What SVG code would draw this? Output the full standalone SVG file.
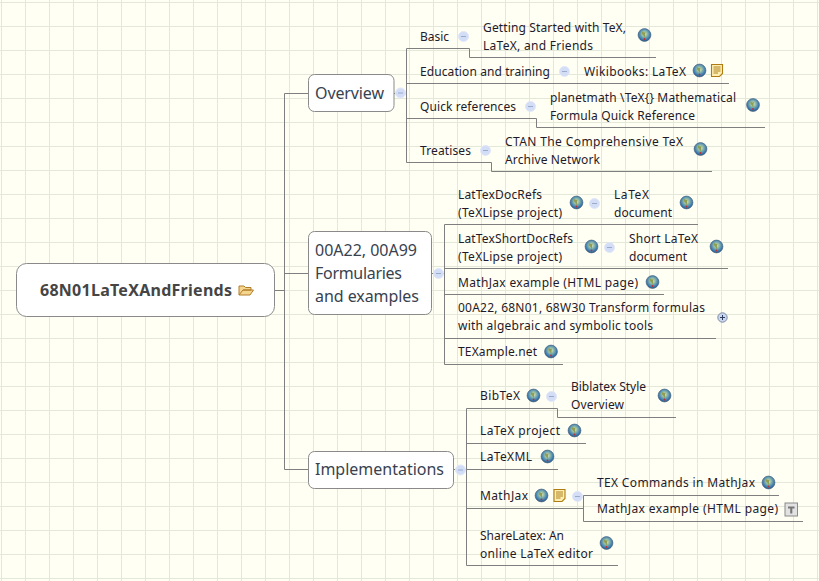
<svg xmlns="http://www.w3.org/2000/svg" width="819" height="581" viewBox="0 0 819 581">
<style>
text{font-family:"Noto Sans","Open Sans","DejaVu Sans",sans-serif;fill:#1f1a2a;font-size:12px}
.big{font-size:16px;fill:#38424f}
.root{font-size:16px;font-weight:bold;fill:#454545}
.box{fill:#fff;stroke:#8a8a8a;stroke-width:1}
.ln{fill:none;stroke:#7f7f7f;stroke-width:1}
.grid{stroke:#e3e8d8;stroke-width:1;fill:none}
</style>
<defs>
<pattern id="gridp" width="24" height="24" patternUnits="userSpaceOnUse" x="1" y="2">
<path class="grid" d="M.5 0V24M0 .5H24"/>
</pattern>
<radialGradient id="gg" cx=".5" cy=".42" r=".62">
<stop offset="0" stop-color="#e4eccb"/><stop offset=".35" stop-color="#8fb8a8"/><stop offset=".72" stop-color="#3a7cb4"/><stop offset="1" stop-color="#26486e"/>
</radialGradient>
<g id="globe"><circle r="6.4" fill="url(#gg)" stroke="#4a6480" stroke-width=".7"/><path d="M-2.500-3.500-.5-2.500 1-3 .5 0 .5 3-1 .5-2.500-1Z" fill="#8f9f52"/><circle cx="0" cy="4" r=".9" fill="#c03030"/></g>
<g id="note"><path d="M-5.500-6H5.500V3L2.500 6H-5.500Z" fill="#fdeeb4" stroke="#b07c12" stroke-width="1.100"/><path d="M-3.500-3.500H3.500M-3.500-1.500H3.500M-3.500.5H3.500M-3.500 2.500H1" stroke="#a87610" stroke-width=".9"/></g>
<g id="minus"><circle r="5" fill="#d3def6" stroke="#e0e8fa"/><path d="M-2.500 0H2.500" stroke="#9aaccc" stroke-width="1"/></g>
<g id="plus"><circle r="4.700" fill="#c9d6ee" stroke="#7d8aa8"/><path d="M-2.500 0H2.500M0-2.500V2.500" stroke="#2f3f60" stroke-width="1"/></g>
</defs>
<rect width="819" height="581" fill="#fffff3"/>
<rect width="819" height="581" fill="url(#gridp)"/>

<g id="connectors">
<path class="ln" d="M274 290.500H284.500M284.500 93.500V469.500M284.500 93.500H308M284.500 273.500H308M284.500 469.500H308"/>
<path class="ln" d="M394 93.500H406.500M406.500 48.500V162.500M406.500 48.500H469.500V57.500H656M406.500 83.500H729M406.500 118.500H536.500V127.500H765M406.500 162.500H491.500V171.500H712"/>
<path class="ln" d="M431 273.500H444.500M444.500 224.500V364.500M444.500 224.500H698M444.500 268.500H728M444.500 294.500H664M444.500 338.500H716M444.500 364.500H563"/>
<path class="ln" d="M453 469.500H466.500M466.500 408.500V565.500M466.500 408.500H557.500V417.500H676M466.500 443.500H586M466.500 469.500H558M466.500 508.500H583.500M583.500 495.500V521.500M583.500 495.500H779M583.500 521.500H803M466.500 565.500H618"/>
</g>

<g id="root">
<rect class="box" x="16.500" y="263.500" width="258" height="53" rx="10"/>
<text class="root" x="40" y="296" textLength="192">68N01LaTeXAndFriends</text>
<path d="M239 295V286H244L245.500 287.500H251V290H243L239 295H250L253.500 290H243" fill="#f6d58e" stroke="#b07f28" stroke-width="1"/>
</g>

<g id="overview">
<rect class="box" x="308.500" y="74.500" width="85.500" height="37" rx="6"/>
<text class="big" x="315" y="99" textLength="69">Overview</text>
<use href="#minus" x="400.500" y="93"/>
</g>
<g id="n-basic"><text x="420" y="41" textLength="29">Basic</text><use href="#minus" x="463.500" y="36.500"/></g>
<g id="n-getting"><text x="483" y="32" textLength="143">Getting Started with TeX,</text><text x="483" y="50" textLength="110">LaTeX, and Friends</text><use href="#globe" x="644.500" y="35"/></g>
<g id="n-edu"><text x="420" y="76" textLength="130">Education and training</text><use href="#minus" x="564.500" y="71.500"/></g>
<g id="n-wiki"><text x="584" y="76" textLength="102">Wikibooks: LaTeX</text><use href="#globe" x="699.500" y="70.500"/><use href="#note" x="717" y="70.500"/></g>
<g id="n-quick"><text x="420" y="111" textLength="96">Quick references</text><use href="#minus" x="530.500" y="106.500"/></g>
<g id="n-planet"><text x="550" y="102" textLength="186">planetmath \TeX{} Mathematical</text><text x="550" y="120" textLength="145">Formula Quick Reference</text><use href="#globe" x="753" y="105"/></g>
<g id="n-treat"><text x="420" y="155" textLength="51">Treatises</text><use href="#minus" x="485.500" y="150.500"/></g>
<g id="n-ctan"><text x="505" y="146" textLength="178">CTAN The Comprehensive TeX</text><text x="505" y="164" textLength="95">Archive Network</text><use href="#globe" x="700.500" y="149"/></g>

<g id="formularies">
<rect class="box" x="308.500" y="231.500" width="123" height="83" rx="6"/>
<text class="big" x="315" y="256" textLength="102">00A22, 00A99</text>
<text class="big" x="315" y="279" textLength="87">Formularies</text>
<text class="big" x="315" y="302" textLength="104">and examples</text>
<use href="#minus" x="438.500" y="273.500"/>
</g>
<g id="n-ldr"><text x="458" y="199" textLength="84">LatTexDocRefs</text><text x="458" y="217" textLength="104">(TeXLipse project)</text><use href="#globe" x="576.500" y="202.500"/><use href="#minus" x="594.500" y="203.500"/></g>
<g id="n-ldoc"><text x="614" y="199" textLength="35">LaTeX</text><text x="614" y="217" textLength="58">document</text><use href="#globe" x="686.500" y="202.500"/></g>
<g id="n-lsdr"><text x="458" y="243" textLength="115">LatTexShortDocRefs</text><text x="458" y="261" textLength="104">(TeXLipse project)</text><use href="#globe" x="591.500" y="246.500"/><use href="#minus" x="609.500" y="247.500"/></g>
<g id="n-sdoc"><text x="629" y="243" textLength="69">Short LaTeX</text><text x="629" y="261" textLength="58">document</text><use href="#globe" x="716.500" y="246.500"/></g>
<g id="n-mj1"><text x="458" y="287" textLength="180">MathJax example (HTML page)</text><use href="#globe" x="652.500" y="282"/></g>
<g id="n-trans"><text x="458" y="312" textLength="247">00A22, 68N01, 68W30 Transform formulas</text><text x="458" y="330" textLength="195">with algebraic and symbolic tools</text><use href="#plus" x="722.500" y="317.500"/></g>
<g id="n-tex"><text x="458" y="356" textLength="79">TEXample.net</text><use href="#globe" x="551" y="351.500"/></g>

<g id="implementations">
<rect class="box" x="308.500" y="451.500" width="145" height="37" rx="6"/>
<text class="big" x="315" y="475" textLength="129">Implementations</text>
<use href="#minus" x="460.500" y="470"/>
</g>
<g id="n-bib"><text x="480" y="400" textLength="40">BibTeX</text><use href="#globe" x="533.500" y="395.500"/><use href="#minus" x="551.500" y="396.500"/></g>
<g id="n-blx"><text x="571" y="391" textLength="75">Biblatex Style</text><text x="571" y="409" textLength="53">Overview</text><use href="#globe" x="664.500" y="395.500"/></g>
<g id="n-lp"><text x="480" y="435" textLength="80">LaTeX project</text><use href="#globe" x="574.500" y="430.500"/></g>
<g id="n-lxml"><text x="480" y="461" textLength="52">LaTeXML</text><use href="#globe" x="547.500" y="456.500"/></g>
<g id="n-mj"><text x="480" y="500" textLength="48">MathJax</text><use href="#globe" x="541.500" y="495.500"/><use href="#note" x="559.500" y="495.500"/><use href="#minus" x="577.500" y="496.500"/></g>
<g id="n-cmd"><text x="597" y="487" textLength="158">TEX Commands in MathJax</text><use href="#globe" x="768.500" y="482.500"/></g>
<g id="n-mj2"><text x="597" y="513" textLength="181">MathJax example (HTML page)</text>
<rect x="785" y="503" width="12.500" height="13" fill="#e2e2e2" stroke="#8a8a8a"/><path d="M788 506.500H794.500V508.500H792.300V513.500H790.200V508.500H788Z" fill="#777"/></g>
<g id="n-share"><text x="480" y="540" textLength="84">ShareLatex: An</text><text x="480" y="558" textLength="113">online LaTeX editor</text><use href="#globe" x="606.500" y="543"/></g>
</svg>
